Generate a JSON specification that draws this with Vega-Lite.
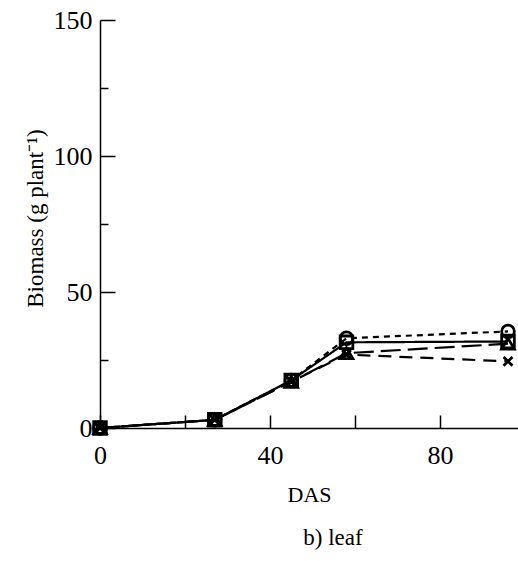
{
  "$schema": "https://vega.github.io/schema/vega-lite/v6.json",
  "autosize": "none",
  "width": 418,
  "height": 408,
  "padding": {"left": 100, "top": 20, "right": 0, "bottom": 133},
  "background": "white",
  "config": {
    "font": "Liberation Serif",
    "view": {"stroke": null},
    "axis": {"grid": false, "domainColor": "black", "tickColor": "black", "labelColor": "black", "titleColor": "black", "domainWidth": 1.5, "tickWidth": 1.5, "labelFont": "Liberation Serif", "titleFont": "Liberation Serif", "titleFontWeight": "normal"}
  },
  "title": {"text": "b) leaf", "orient": "bottom", "offset": 22, "dx": 24, "fontSize": 23, "fontWeight": "normal", "font": "Liberation Serif", "color": "black"},
  "data": {"values": [
    {"das": 0, "biomass": 0, "s": "A"},
    {"das": 27, "biomass": 3, "s": "A"},
    {"das": 45, "biomass": 17.5, "s": "A"},
    {"das": 58, "biomass": 33, "s": "A"},
    {"das": 96, "biomass": 35.5, "s": "A"},
    {"das": 0, "biomass": 0, "s": "B"},
    {"das": 27, "biomass": 3, "s": "B"},
    {"das": 45, "biomass": 17.5, "s": "B"},
    {"das": 58, "biomass": 31.5, "s": "B"},
    {"das": 96, "biomass": 31.8, "s": "B"},
    {"das": 0, "biomass": 0, "s": "C"},
    {"das": 27, "biomass": 3, "s": "C"},
    {"das": 45, "biomass": 17, "s": "C"},
    {"das": 58, "biomass": 27.5, "s": "C"},
    {"das": 96, "biomass": 31, "s": "C"},
    {"das": 0, "biomass": 0, "s": "D"},
    {"das": 27, "biomass": 3, "s": "D"},
    {"das": 45, "biomass": 17, "s": "D"},
    {"das": 58, "biomass": 27, "s": "D"},
    {"das": 96, "biomass": 24.5, "s": "D"}
  ]},
  "resolve": {"axis": {"y": "independent"}, "scale": {"y": "shared"}},
  "layer": [
    {"mark": {"type": "line", "color": "black", "strokeWidth": 2.2},
     "encoding": {
       "x": {"field": "das", "type": "quantitative", "scale": {"domain": [0, 98.35], "nice": false, "zero": false},
         "axis": {"values": [0, 20, 40, 60, 80], "labelExpr": "datum.value % 40 == 0 ? datum.label : ''", "labelFlush": false, "tickSize": -13, "labelPadding": 27, "labelFontSize": 26, "title": "DAS", "titleFontSize": 22, "titlePadding": 16}},
       "y": {"field": "biomass", "type": "quantitative", "scale": {"domain": [0, 150], "nice": false},
         "axis": {"orient": "left", "values": [0, 50, 100, 150], "tickSize": -15, "labelPadding": 23, "labelFontSize": 26, "labelFlush": false, "title": "Biomass (g plant⁻¹)", "titleFontSize": 23, "titlePadding": 6, "titleY": 198}},
       "detail": {"field": "s"},
       "strokeDash": {"field": "s", "type": "nominal", "scale": {"domain": ["A", "B", "C", "D"], "range": [[6, 5], [1, 0], [20, 7], [13, 8]]}, "legend": null}}},
    {"mark": {"type": "point", "filled": false, "color": "black", "strokeWidth": 2.8, "size": 160, "opacity": 1},
     "encoding": {
       "x": {"field": "das", "type": "quantitative"},
       "y": {"field": "biomass", "type": "quantitative",
         "axis": {"orient": "left", "values": [25, 75, 125], "tickSize": -8, "labels": false, "domain": false, "title": null}},
       "shape": {"field": "s", "type": "nominal", "scale": {"domain": ["A", "B", "C", "D"], "range": ["circle", "square", "triangle-up", "M-0.7,-0.7L0.7,0.7M-0.7,0.7L0.7,-0.7"]}, "legend": null}}}
  ]
}
